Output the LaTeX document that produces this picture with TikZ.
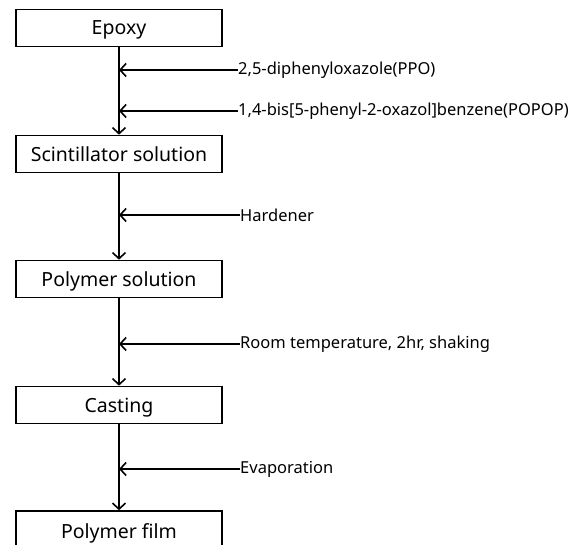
\documentclass[tikz,border=0pt]{standalone}
\usepackage{fontspec}
\setmainfont{Noto Sans}
\usetikzlibrary{arrows.meta}
\begin{document}
\begin{tikzpicture}[x=1pt,y=-1pt,
  stepbox/.style={draw,line width=1.6pt,minimum width=206pt,minimum height=37pt,inner sep=0pt,text depth=0pt,font=\fontsize{19.5}{22}\selectfont},
  flow/.style={line width=1.6pt,-{Straight Barb[length=6pt,width=13pt,line width=1.6pt]}},
  lbl/.style={anchor=west,inner sep=0pt,font=\fontsize{16.5}{19}\selectfont}]
\useasboundingbox (0,0) rectangle (587,545);
\begin{scope}
\clip (0,0) rectangle (587,545);
\node[stepbox] (b1) at (119,28) {Epoxy};
\node[stepbox] (b2) at (119,154) {Scintillator solution};
\node[stepbox] (b3) at (119,279) {Polymer solution};
\node[stepbox] (b4) at (119,405) {Casting};
\node[stepbox,minimum height=40pt] (b5) at (119,531) {};
\node[font=\fontsize{19.5}{22}\selectfont,text depth=0pt] (b5t) at (119,531) {Polymer film};
\end{scope}
\draw[flow] (b1.south) -- (b2.north);
\draw[flow] (b2.south) -- (b3.north);
\draw[flow] (b3.south) -- (b4.north);
\draw[flow] (b4.south) -- (b5.north);
\node[lbl] (l1) at (238,70) {2,5-diphenyloxazole(PPO)};
\node[lbl] (l2) at (238,111) {1,4-bis[5-phenyl-2-oxazol]benzene(POPOP)};
\node[lbl] (l3) at (240,215) {Hardener};
\node[lbl] (l4) at (240,344) {Room temperature, 2hr, shaking};
\node[lbl] (l5) at (240,469) {Evaporation};
\foreach \i in {1,...,5}{
  \coordinate (j\i) at (b1.center |- l\i.west);
  \draw[flow] (l\i.west) -- (j\i);
}
\end{tikzpicture}
\end{document}
